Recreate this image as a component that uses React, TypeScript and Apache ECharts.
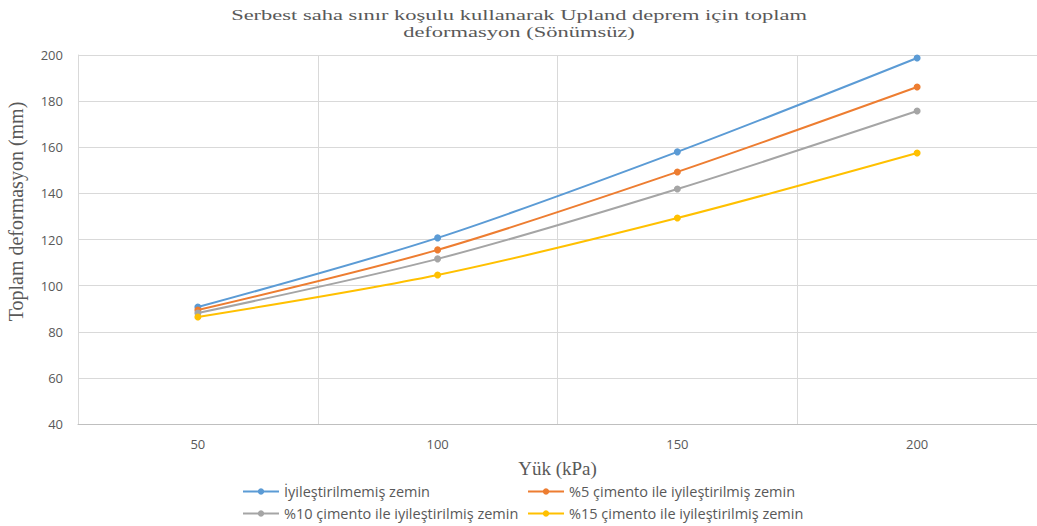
import React, { useEffect, useRef } from "react";
import * as echarts from "echarts";

const titleText = "Serbest saha sınır koşulu kullanarak Upland deprem için toplam\ndeformasyon (Sönümsüz)";
const categories = ["50", "100", "150", "200"];
const seriesNames = [
  "İyileştirilmemiş zemin",
  "%5 çimento ile iyileştirilmiş zemin",
  "%10 çimento ile iyileştirilmiş zemin",
  "%15 çimento ile iyileştirilmiş zemin",
];
const unimproved = [90.7, 120.7, 158.0, 198.7];
const cement5 = [89.4, 115.5, 149.3, 186.1];
const cement10 = [88.1, 111.6, 141.9, 175.7];
const cement15 = [86.4, 104.6, 129.3, 157.5];
const colors = ["#5b9bd5", "#ed7d31", "#a5a5a5", "#ffc000"];

export default function App() {
  const ref = useRef<HTMLDivElement>(null);
  useEffect(() => {
    document.body.style.margin = "0";
    const chart = echarts.init(ref.current!, null, { renderer: "svg" });
    const data = [unimproved, cement5, cement10, cement15];
    const legendPos = [
      { left: 242, top: 484 },
      { left: 527, top: 484 },
      { left: 242, top: 506 },
      { left: 527, top: 506 },
    ];
    chart.setOption({
      animation: false,
      backgroundColor: "#ffffff",
      graphic: [
        {
          type: "text",
          x: 519,
          y: 6,
          scaleX: 1.5,
          style: {
            text: titleText,
            textAlign: "center",
            textVerticalAlign: "top",
            fontFamily: "Liberation Serif",
            fontSize: 15,
            lineHeight: 17,
            fill: "#595959",
          },
        },
      ],
      legend: legendPos.map((p, i) => ({
        data: [seriesNames[i]],
        left: p.left,
        top: p.top,
        padding: 0,
        itemWidth: 36,
        itemHeight: 8,
        itemGap: 5,
        textStyle: { fontFamily: "Open Sans", fontSize: 14.5, color: "#595959" },
      })),
      grid: { left: 78, right: 0, top: 55, bottom: 102, outerBoundsMode: "none", containLabel: false },
      xAxis: {
        type: "category",
        data: categories,
        boundaryGap: true,
        name: "Yük (kPa)",
        nameLocation: "middle",
        nameGap: 35,
        nameTextStyle: { fontFamily: "Liberation Serif", fontSize: 19, color: "#595959" },
        axisLine: { lineStyle: { color: "#bfbfbf" } },
        axisTick: { show: false },
        axisLabel: { fontFamily: "Open Sans", fontSize: 13, color: "#595959", margin: 13 },
        splitLine: { show: true, lineStyle: { color: "#d9d9d9" } },
      },
      yAxis: {
        type: "value",
        min: 40,
        max: 200,
        interval: 20,
        name: "Toplam deformasyon (mm)",
        nameLocation: "middle",
        nameGap: 52,
        nameTextStyle: {
          fontFamily: "Liberation Serif",
          fontSize: 20,
          color: "#595959",
          padding: [0, 0, 0, 56],
        },
        axisLine: { show: true, lineStyle: { color: "#d9d9d9" } },
        axisTick: { show: false },
        axisLabel: { fontFamily: "Open Sans", fontSize: 13, color: "#595959", margin: 15 },
        splitLine: { show: true, lineStyle: { color: "#d9d9d9" } },
      },
      series: data.map((d, i) => ({
        name: seriesNames[i],
        type: "line",
        data: d,
        smooth: 0.3,
        symbol: "circle",
        symbolSize: 7,
        itemStyle: { color: colors[i] },
        lineStyle: { color: colors[i], width: 2 },
      })),
    });
    return () => chart.dispose();
  }, []);
  return <div ref={ref} style={{ width: 1037, height: 526 }} />;
}
